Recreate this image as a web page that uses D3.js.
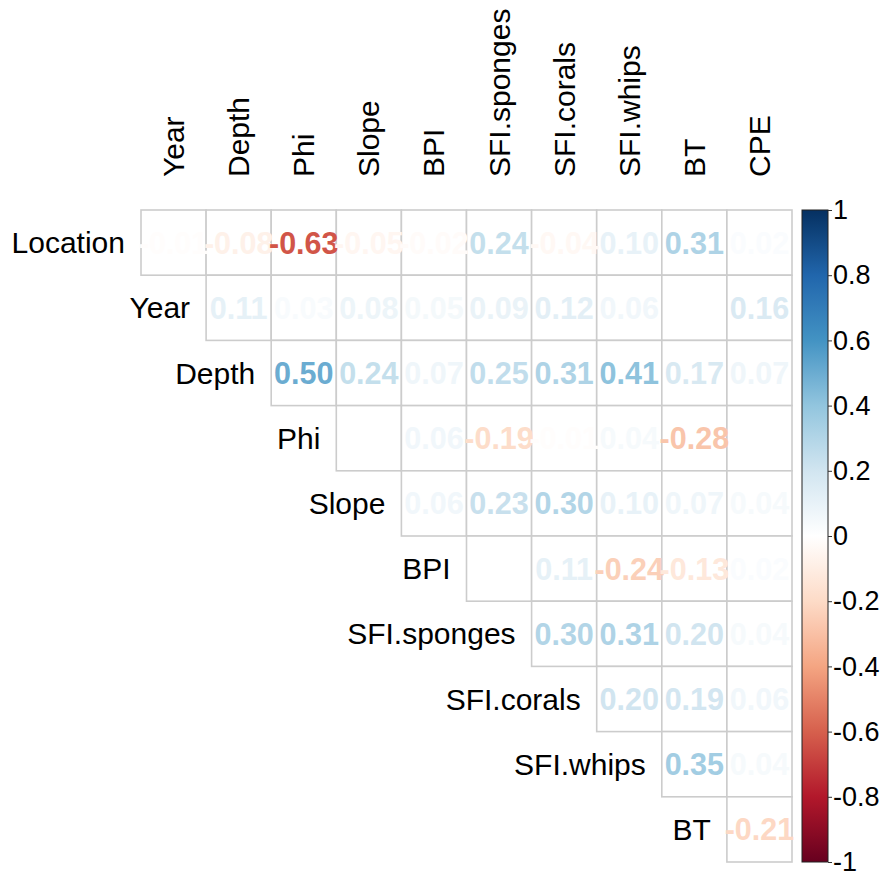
<!DOCTYPE html>
<html>
<head>
<meta charset="utf-8">
<script src="https://cdn.jsdelivr.net/npm/d3@7"></script>
<style>
  body { margin: 0; background: #fff; }
  svg { font-family: "Liberation Sans", Arial, sans-serif; }
</style>
</head>
<body>
<script>
// variables (rows = first 10, columns = last 10)
const rowVars = ["Location", "Year", "Depth", "Phi", "Slope", "BPI", "SFI.sponges", "SFI.corals", "SFI.whips", "BT"];
const colVars = ["Year", "Depth", "Phi", "Slope", "BPI", "SFI.sponges", "SFI.corals", "SFI.whips", "BT", "CPE"];

// upper triangle, one array per row (starting at its first column)
const corLocation = [-0.01, -0.08, -0.63, -0.05, -0.02, 0.24, -0.04, 0.10, 0.31, 0.02];
const corYear = [0.11, 0.03, 0.08, 0.05, 0.09, 0.12, 0.06, 0.00, 0.16];
const corDepth = [0.50, 0.24, 0.07, 0.25, 0.31, 0.41, 0.17, 0.07];
const corPhi = [0.00, 0.06, -0.19, -0.01, 0.04, -0.28, 0.00];
const corSlope = [0.06, 0.23, 0.30, 0.10, 0.07, 0.04];
const corBPI = [0.00, 0.11, -0.24, -0.13, 0.02];
const corSponges = [0.30, 0.31, 0.20, 0.04];
const corCorals = [0.20, 0.19, 0.06];
const corWhips = [0.35, 0.04];
const corBT = [-0.21];

const legendTicks = [1, 0.8, 0.6, 0.4, 0.2, 0, -0.2, -0.4, -0.6, -0.8, -1];

const rows = [corLocation, corYear, corDepth, corPhi, corSlope, corBPI, corSponges, corCorals, corWhips, corBT];
const cells = [];
rows.forEach((vals, i) => {
  vals.forEach((v, k) => {
    cells.push({ row: rowVars[i], col: colVars[i + k], value: v });
  });
});

const width = 883;
const height = 873;
const gridLeft = 141, gridRight = 792, gridTop = 210, gridBottom = 862;

const svg = d3.select("body").append("svg")
  .attr("width", width)
  .attr("height", height);

const x = d3.scaleBand().domain(colVars).range([gridLeft, gridRight]);
const y = d3.scaleBand().domain(rowVars).range([gridTop, gridBottom]);

const palette = ["#67001F", "#B2182B", "#D6604D", "#F4A582", "#FDDBC7", "#FFFFFF",
  "#D1E5F0", "#92C5DE", "#4393C3", "#2166AC", "#053061"];
const color = d3.scaleLinear()
  .domain(d3.range(11).map(i => -1 + i * 0.2))
  .range(palette);

// cells
svg.append("g")
  .selectAll("rect")
  .data(cells)
  .join("rect")
  .attr("x", d => x(d.col))
  .attr("y", d => y(d.row))
  .attr("width", x.bandwidth())
  .attr("height", y.bandwidth())
  .attr("fill", "#fff")
  .attr("stroke", "#cccccc")
  .attr("stroke-width", 1.6);

// numbers
svg.append("g")
  .selectAll("text")
  .data(cells)
  .join("text")
  .attr("x", d => x(d.col) + x.bandwidth() / 2)
  .attr("y", d => y(d.row) + y.bandwidth() / 2)
  .attr("text-anchor", "middle")
  .attr("dominant-baseline", "central")
  .attr("font-size", 30.5)
  .attr("font-weight", "bold")
  .attr("fill", d => color(d.value))
  .text(d => d.value.toFixed(2));

// row labels
svg.append("g")
  .selectAll("text")
  .data(rowVars)
  .join("text")
  .attr("x", (d, i) => x(colVars[i]) - 16)
  .attr("y", d => y(d) + y.bandwidth() / 2)
  .attr("text-anchor", "end")
  .attr("dominant-baseline", "central")
  .attr("font-size", 30)
  .attr("fill", "#000")
  .text(d => d);

// column labels
svg.append("g")
  .selectAll("text")
  .data(colVars)
  .join("text")
  .attr("transform", d => `translate(${x(d) + x.bandwidth() / 2},177) rotate(-90)`)
  .attr("dominant-baseline", "central")
  .attr("font-size", 30)
  .attr("fill", "#000")
  .text(d => d);

// colour legend
const barX = 802, barW = 26;
const legendScale = d3.scaleLinear().domain([-1, 1]).range([gridBottom, gridTop]);

const grad = svg.append("defs").append("linearGradient")
  .attr("id", "corgrad")
  .attr("x1", 0).attr("x2", 0).attr("y1", 1).attr("y2", 0);
grad.selectAll("stop")
  .data(d3.range(0, 1.0001, 0.05))
  .join("stop")
  .attr("offset", d => d)
  .attr("stop-color", d => color(-1 + 2 * d));

svg.append("rect")
  .attr("x", barX)
  .attr("y", gridTop)
  .attr("width", barW)
  .attr("height", gridBottom - gridTop)
  .attr("fill", "url(#corgrad)")
  .attr("stroke", "#222")
  .attr("stroke-width", 1);

const legendAxis = d3.axisRight(legendScale)
  .tickValues(legendTicks)
  .tickSize(4)
  .tickPadding(1)
  .tickFormat(d => String(d));

const gLegend = svg.append("g")
  .attr("transform", `translate(${barX + barW},0)`)
  .call(legendAxis);
gLegend.select(".domain").remove();
gLegend.selectAll(".tick line").attr("stroke", "#333");
gLegend.selectAll(".tick text")
  .attr("font-size", 27)
  .attr("font-family", "Liberation Sans, Arial, sans-serif")
  .attr("fill", "#000");
</script>
</body>
</html>
